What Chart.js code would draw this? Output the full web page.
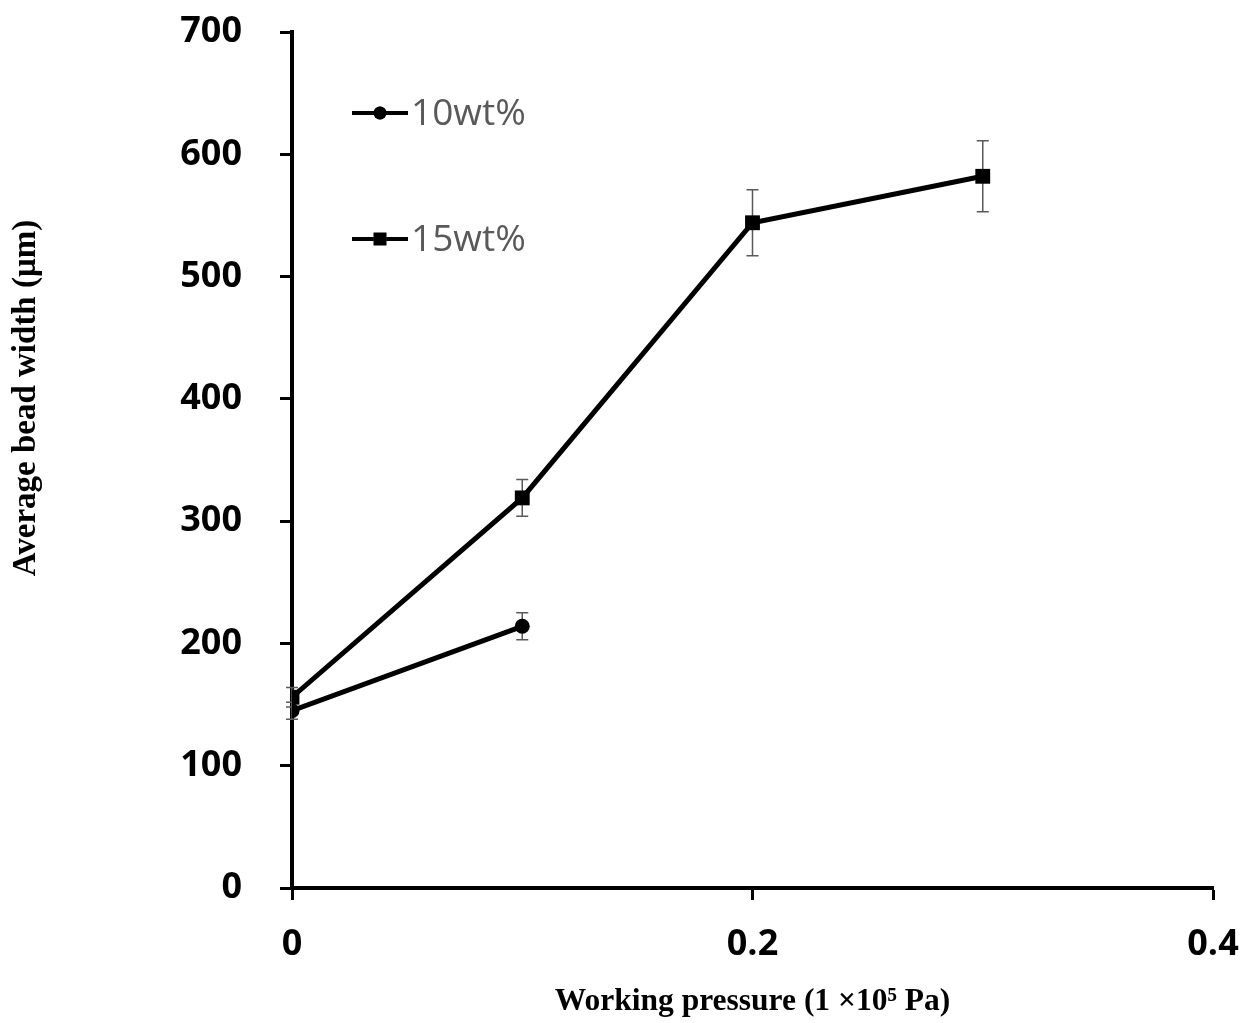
<!DOCTYPE html>
<html>
<head>
<meta charset="utf-8">
<script src="https://cdn.jsdelivr.net/npm/chart.js@4.4.1/dist/chart.umd.min.js"></script>
<style>
  html, body { margin: 0; padding: 0; background: #fff; }
  #wrap { width: 1247px; height: 1023px; position: relative; }
</style>
</head>
<body>
<div id="wrap"><canvas id="beadChart"></canvas></div>
<script>
// working pressure (x 1e5 Pa)
const pressure = [0, 0.1, 0.2, 0.3];
const seriesNames = ["10wt%", "15wt%"];
// average bead width (um) and std dev
const width10 = [145, 214];
const err10 = [7, 11];
const width15 = [156, 319, 544, 582];
const err15 = [8, 15, 27, 29];
const xTicks = [0, 0.2, 0.4];
const yTicks = [0, 100, 200, 300, 400, 500, 600, 700];
const xTitle = "Working pressure (1 ×10⁵ Pa)";
const yTitle = "Average bead width (μm)";

function toPoints(ys, errs) {
  return ys.map((y, i) => ({ x: pressure[i], y: y, err: errs[i] }));
}

const serifBold = "'Liberation Serif', 'Times New Roman', serif";

// vertical error bars with caps, drawn under the lines
const errorBars = {
  id: "errorBars",
  beforeDatasetsDraw(chart) {
    const ctx = chart.ctx;
    const xs = chart.scales.x;
    const ys = chart.scales.y;
    ctx.save();
    ctx.strokeStyle = "#595959";
    ctx.lineWidth = 1.5;
    chart.data.datasets.forEach((ds) => {
      ds.data.forEach((p) => {
        const px = xs.getPixelForValue(p.x);
        const top = ys.getPixelForValue(p.y + p.err);
        const bot = ys.getPixelForValue(p.y - p.err);
        ctx.beginPath();
        ctx.moveTo(px, top);
        ctx.lineTo(px, bot);
        ctx.moveTo(px - 6, top);
        ctx.lineTo(px + 6, top);
        ctx.moveTo(px - 6, bot);
        ctx.lineTo(px + 6, bot);
        ctx.stroke();
      });
    });
    ctx.restore();
  },
};

// legend inside the plot, one entry per row, plus the rotated y title
const decorations = {
  id: "decorations",
  afterDraw(chart) {
    const ctx = chart.ctx;
    const rows = [113, 239];
    ctx.save();
    chart.data.datasets.forEach((ds, i) => {
      const y = rows[i];
      ctx.strokeStyle = "#000";
      ctx.lineWidth = 4;
      ctx.beginPath();
      ctx.moveTo(352, y);
      ctx.lineTo(408, y);
      ctx.stroke();
      Chart.helpers.drawPoint(ctx, {
        pointStyle: ds.pointStyle,
        radius: i === 0 ? 6.5 : 9,
        borderWidth: 0,
      }, 380, y);
      ctx.fillStyle = "#000";
      ctx.fill();
      ctx.fillStyle = "#595959";
      ctx.font = "37px 'Open Sans'";
      ctx.textBaseline = "middle";
      ctx.textAlign = "left";
      ctx.fillText(ds.label, 411, y + 1);
    });

    ctx.translate(35, 398);
    ctx.rotate(-Math.PI / 2);
    ctx.fillStyle = "#000";
    ctx.font = "bold 33px " + serifBold;
    ctx.textAlign = "center";
    ctx.textBaseline = "alphabetic";
    ctx.fillText(yTitle, 0, 0);
    ctx.restore();
  },
};

const tickFont = { family: "'Open Sans'", size: 36, weight: "bold" };

new Chart(document.getElementById("beadChart"), {
  type: "line",
  data: {
    datasets: [
      {
        label: seriesNames[0],
        data: toPoints(width10, err10),
        borderColor: "#000",
        backgroundColor: "#000",
        borderWidth: 5,
        pointStyle: "circle",
        pointRadius: 7.5,
        pointBorderWidth: 0,
      },
      {
        label: seriesNames[1],
        data: toPoints(width15, err15),
        borderColor: "#000",
        backgroundColor: "#000",
        borderWidth: 5,
        pointStyle: "rect",
        pointRadius: 10.5,
        pointBorderWidth: 0,
      },
    ],
  },
  options: {
    responsive: true,
    maintainAspectRatio: false,
    animation: false,
    layout: { padding: { top: 32, right: 34, bottom: 0, left: 0 } },
    plugins: {
      legend: { display: false },
      tooltip: { enabled: false },
    },
    scales: {
      x: {
        type: "linear",
        min: 0,
        max: 0.4,
        afterBuildTicks: (scale) => { scale.ticks = xTicks.map((v) => ({ value: v })); },
        afterFit: (scale) => {
          // label overhang is covered by the layout padding
          scale.height = 135;
          scale.paddingLeft = 0;
          scale.paddingRight = 0;
        },
        border: { display: true, color: "#000", width: 4 },
        grid: { drawOnChartArea: false, drawTicks: true, tickLength: 12, tickWidth: 3, tickColor: "#000" },
        ticks: { color: "#000", font: tickFont, padding: 23, maxRotation: 0 },
        title: {
          display: true,
          text: xTitle,
          color: "#000",
          font: { family: serifBold, size: 31.5, weight: "bold" },
          padding: { top: 0, bottom: 2 },
        },
      },
      y: {
        min: 0,
        max: 700,
        afterBuildTicks: (scale) => { scale.ticks = yTicks.map((v) => ({ value: v })); },
        afterFit: (scale) => {
          scale.width = 292;
          scale.paddingTop = 0;
          scale.paddingBottom = 0;
        },
        border: { display: true, color: "#000", width: 4 },
        grid: { drawOnChartArea: false, drawTicks: true, tickLength: 12, tickWidth: 3, tickColor: "#000" },
        ticks: { color: "#000", font: tickFont, padding: 38 },
      },
    },
  },
  plugins: [errorBars, decorations],
});
</script>
</body>
</html>
